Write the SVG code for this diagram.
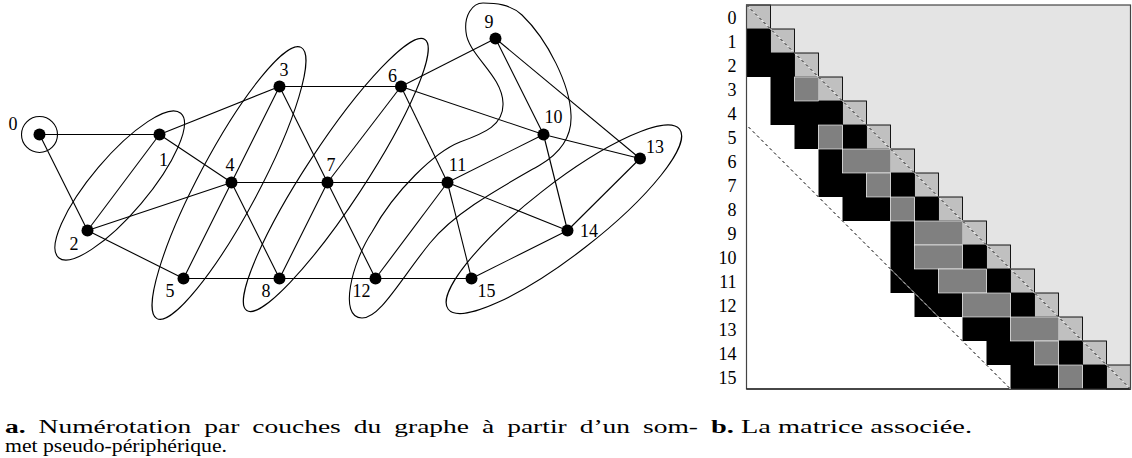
<svg xmlns="http://www.w3.org/2000/svg" width="1132" height="458" viewBox="0 0 1132 458" font-family="Liberation Serif, Times New Roman, serif">
<style>
text{font-family:"Liberation Serif","Times New Roman",Times,serif}
.t{font-size:18px;fill:#000}
.cap{font-size:18px;fill:#000}
.lbl{text-anchor:middle}
.rl{text-anchor:end}
.e{stroke:#000;stroke-width:1.1;fill:none}
.lay{stroke:#000;stroke-width:1.1;fill:none}
.dot{fill:#000}
.blk{fill:#000}
.dg{fill:#808080;stroke:#fff;stroke-width:0.6}
.diag{fill:#c0c0c0;stroke:#000;stroke-width:0.9}
</style>
<rect width="1132" height="458" fill="#fff"/>

<g id="layers">
<circle class="lay" cx="39.5" cy="134.5" r="18"/>
<ellipse class="lay" cx="119.7" cy="185.5" rx="94.6" ry="28" transform="rotate(-49.8 119.7 185.5)"/>
<ellipse class="lay" cx="229" cy="183" rx="153.6" ry="30.2" transform="rotate(-62 229 183)"/>
<ellipse class="lay" cx="335.8" cy="175" rx="162.2" ry="29.4" transform="rotate(-56.7 335.8 175)"/>
<path class="lay" d="M483,3 C472,3 464,16 466,32 C468,55 502,75 503,103 C504,125 485,133 460,142 C435,152 395,190 372,232 C352,262 338,318 362,318 C380,318 400,280 430,243 C455,212 500,188 540,165 C562,152 572,135 571,115 C570,85 548,40 522,15 C510,4 495,3 483,3 Z"/>
<ellipse class="lay" cx="563.9" cy="219.2" rx="146.6" ry="35.3" transform="rotate(-37.9 563.9 219.2)"/>
</g>

<g id="connectors">
<line class="e" x1="39.5" y1="134.5" x2="159.5" y2="134.5"/>
<line class="e" x1="39.5" y1="134.5" x2="87.5" y2="230.5"/>
<line class="e" x1="159.5" y1="134.5" x2="87.5" y2="230.5"/>
<line class="e" x1="159.5" y1="134.5" x2="279.5" y2="86.5"/>
<line class="e" x1="159.5" y1="134.5" x2="231.5" y2="182.5"/>
<line class="e" x1="87.5" y1="230.5" x2="231.5" y2="182.5"/>
<line class="e" x1="87.5" y1="230.5" x2="183.5" y2="278.5"/>
<line class="e" x1="279.5" y1="86.5" x2="231.5" y2="182.5"/>
<line class="e" x1="279.5" y1="86.5" x2="401" y2="86.5"/>
<line class="e" x1="279.5" y1="86.5" x2="327.5" y2="182.5"/>
<line class="e" x1="231.5" y1="182.5" x2="183.5" y2="278.5"/>
<line class="e" x1="231.5" y1="182.5" x2="327.5" y2="182.5"/>
<line class="e" x1="231.5" y1="182.5" x2="279.5" y2="278.5"/>
<line class="e" x1="183.5" y1="278.5" x2="279.5" y2="278.5"/>
<line class="e" x1="401" y1="86.5" x2="327.5" y2="182.5"/>
<line class="e" x1="401" y1="86.5" x2="495.5" y2="38.5"/>
<line class="e" x1="401" y1="86.5" x2="543.5" y2="134.5"/>
<line class="e" x1="401" y1="86.5" x2="447.5" y2="182.5"/>
<line class="e" x1="327.5" y1="182.5" x2="279.5" y2="278.5"/>
<line class="e" x1="327.5" y1="182.5" x2="447.5" y2="182.5"/>
<line class="e" x1="327.5" y1="182.5" x2="375.5" y2="278.5"/>
<line class="e" x1="279.5" y1="278.5" x2="375.5" y2="278.5"/>
<line class="e" x1="495.5" y1="38.5" x2="543.5" y2="134.5"/>
<line class="e" x1="495.5" y1="38.5" x2="640" y2="158.5"/>
<line class="e" x1="543.5" y1="134.5" x2="447.5" y2="182.5"/>
<line class="e" x1="543.5" y1="134.5" x2="640" y2="158.5"/>
<line class="e" x1="543.5" y1="134.5" x2="567.5" y2="230.5"/>
<line class="e" x1="447.5" y1="182.5" x2="375.5" y2="278.5"/>
<line class="e" x1="447.5" y1="182.5" x2="567.5" y2="230.5"/>
<line class="e" x1="447.5" y1="182.5" x2="471.5" y2="278.5"/>
<line class="e" x1="375.5" y1="278.5" x2="471.5" y2="278.5"/>
<line class="e" x1="640" y1="158.5" x2="567.5" y2="230.5"/>
<line class="e" x1="567.5" y1="230.5" x2="471.5" y2="278.5"/>
</g>

<g id="n0"><circle class="dot" cx="39.5" cy="134.5" r="6"/><text class="t lbl" x="13" y="130">0</text></g>
<g id="n1"><circle class="dot" cx="159.5" cy="134.5" r="6"/><text class="t lbl" x="163.5" y="166">1</text></g>
<g id="n2"><circle class="dot" cx="87.5" cy="230.5" r="6"/><text class="t lbl" x="74" y="250">2</text></g>
<g id="n3"><circle class="dot" cx="279.5" cy="86.5" r="6"/><text class="t lbl" x="284" y="75.5">3</text></g>
<g id="n4"><circle class="dot" cx="231.5" cy="182.5" r="6"/><text class="t lbl" x="230" y="171">4</text></g>
<g id="n5"><circle class="dot" cx="183.5" cy="278.5" r="6"/><text class="t lbl" x="170" y="297">5</text></g>
<g id="n6"><circle class="dot" cx="401" cy="86.5" r="6"/><text class="t lbl" x="392.5" y="82">6</text></g>
<g id="n7"><circle class="dot" cx="327.5" cy="182.5" r="6"/><text class="t lbl" x="331" y="171">7</text></g>
<g id="n8"><circle class="dot" cx="279.5" cy="278.5" r="6"/><text class="t lbl" x="266" y="297">8</text></g>
<g id="n9"><circle class="dot" cx="495.5" cy="38.5" r="6"/><text class="t lbl" x="489" y="27.5">9</text></g>
<g id="n10"><circle class="dot" cx="543.5" cy="134.5" r="6"/><text class="t lbl" x="553.5" y="122.5">10</text></g>
<g id="n11"><circle class="dot" cx="447.5" cy="182.5" r="6"/><text class="t lbl" x="457.5" y="170.5">11</text></g>
<g id="n12"><circle class="dot" cx="375.5" cy="278.5" r="6"/><text class="t lbl" x="361.5" y="297">12</text></g>
<g id="n13"><circle class="dot" cx="640" cy="158.5" r="6"/><text class="t lbl" x="655" y="152.5">13</text></g>
<g id="n14"><circle class="dot" cx="567.5" cy="230.5" r="6"/><text class="t lbl" x="589" y="236.5">14</text></g>
<g id="n15"><circle class="dot" cx="471.5" cy="278.5" r="6"/><text class="t lbl" x="486.5" y="297">15</text></g>

<g id="matrix">
<rect x="746.5" y="5" width="384" height="384" fill="#fff"/>
<polygon fill="#e4e4e4" points="770.5,5 1130.5,5 1130.5,365 1106.5,365 1106.5,341 1082.5,341 1082.5,317 1058.5,317 1058.5,293 1034.5,293 1034.5,269 1010.5,269 1010.5,245 986.5,245 986.5,221 962.5,221 962.5,197 938.5,197 938.5,173 914.5,173 914.5,149 890.5,149 890.5,125 866.5,125 866.5,101 842.5,101 842.5,77 818.5,77 818.5,53 794.5,53 794.5,29 770.5,29"/>
<g id="diagcells">
<rect class="diag" x="746.5" y="5" width="24" height="24"/>
<rect class="diag" x="770.5" y="29" width="24" height="24"/>
<rect class="diag" x="794.5" y="53" width="24" height="24"/>
<rect class="diag" x="818.5" y="77" width="24" height="24"/>
<rect class="diag" x="842.5" y="101" width="24" height="24"/>
<rect class="diag" x="866.5" y="125" width="24" height="24"/>
<rect class="diag" x="890.5" y="149" width="24" height="24"/>
<rect class="diag" x="914.5" y="173" width="24" height="24"/>
<rect class="diag" x="938.5" y="197" width="24" height="24"/>
<rect class="diag" x="962.5" y="221" width="24" height="24"/>
<rect class="diag" x="986.5" y="245" width="24" height="24"/>
<rect class="diag" x="1010.5" y="269" width="24" height="24"/>
<rect class="diag" x="1034.5" y="293" width="24" height="24"/>
<rect class="diag" x="1058.5" y="317" width="24" height="24"/>
<rect class="diag" x="1082.5" y="341" width="24" height="24"/>
<rect class="diag" x="1106.5" y="365" width="24" height="24"/>
</g>
<g id="blackcells">
<rect class="blk" x="746.5" y="29" width="24" height="24"/>
<rect class="blk" x="746.5" y="53" width="48" height="24"/>
<rect class="blk" x="770.5" y="77" width="24" height="24"/>
<rect class="blk" x="770.5" y="101" width="72" height="24"/>
<rect class="blk" x="794.5" y="125" width="24" height="24"/>
<rect class="blk" x="842.5" y="125" width="24" height="24"/>
<rect class="blk" x="818.5" y="149" width="24" height="24"/>
<rect class="blk" x="818.5" y="173" width="48" height="24"/>
<rect class="blk" x="890.5" y="173" width="24" height="24"/>
<rect class="blk" x="842.5" y="197" width="48" height="24"/>
<rect class="blk" x="914.5" y="197" width="24" height="24"/>
<rect class="blk" x="890.5" y="221" width="24" height="24"/>
<rect class="blk" x="890.5" y="245" width="24" height="24"/>
<rect class="blk" x="962.5" y="245" width="24" height="24"/>
<rect class="blk" x="890.5" y="269" width="48" height="24"/>
<rect class="blk" x="986.5" y="269" width="24" height="24"/>
<rect class="blk" x="914.5" y="293" width="48" height="24"/>
<rect class="blk" x="1010.5" y="293" width="24" height="24"/>
<rect class="blk" x="962.5" y="317" width="48" height="24"/>
<rect class="blk" x="986.5" y="341" width="48" height="24"/>
<rect class="blk" x="1058.5" y="341" width="24" height="24"/>
<rect class="blk" x="1010.5" y="365" width="48" height="24"/>
<rect class="blk" x="1082.5" y="365" width="24" height="24"/>
</g>
<g id="graycells">
<rect class="dg" x="794.5" y="77" width="24" height="24"/>
<rect class="dg" x="818.5" y="125" width="24" height="24"/>
<rect class="dg" x="842.5" y="149" width="48" height="24"/>
<rect class="dg" x="866.5" y="173" width="24" height="24"/>
<rect class="dg" x="890.5" y="197" width="24" height="24"/>
<rect class="dg" x="914.5" y="221" width="48" height="24"/>
<rect class="dg" x="914.5" y="245" width="48" height="24"/>
<rect class="dg" x="938.5" y="269" width="48" height="24"/>
<rect class="dg" x="962.5" y="293" width="48" height="24"/>
<rect class="dg" x="1010.5" y="317" width="48" height="24"/>
<rect class="dg" x="1034.5" y="341" width="24" height="24"/>
<rect class="dg" x="1058.5" y="365" width="24" height="24"/>
</g>
<rect x="746.5" y="5" width="384" height="384" fill="none" stroke="#444" stroke-width="1.2"/>
<line x1="746.5" y1="389" x2="1130.5" y2="389" stroke="#000" stroke-width="1.2"/>
<g id="dashes">
<line x1="746.5" y1="5" x2="1130.5" y2="389" stroke="#fff" stroke-width="1"/>
<line x1="746.5" y1="5" x2="1130.5" y2="389" stroke="#000" stroke-width="1" stroke-dasharray="3 3"/>
<line x1="748.5" y1="127" x2="1010.5" y2="389" stroke="#fff" stroke-width="1"/>
<line x1="748.5" y1="127" x2="1010.5" y2="389" stroke="#000" stroke-width="1" stroke-dasharray="3 3"/>
</g>
<g id="rowlabels">
<text class="t rl" x="736.5" y="23.5">0</text>
<text class="t rl" x="736.5" y="47.5">1</text>
<text class="t rl" x="736.5" y="71.5">2</text>
<text class="t rl" x="736.5" y="95.5">3</text>
<text class="t rl" x="736.5" y="119.5">4</text>
<text class="t rl" x="736.5" y="143.5">5</text>
<text class="t rl" x="736.5" y="167.5">6</text>
<text class="t rl" x="736.5" y="191.5">7</text>
<text class="t rl" x="736.5" y="215.5">8</text>
<text class="t rl" x="736.5" y="239.5">9</text>
<text class="t rl" x="736.5" y="263.5">10</text>
<text class="t rl" x="736.5" y="287.5">11</text>
<text class="t rl" x="736.5" y="311.5">12</text>
<text class="t rl" x="736.5" y="335.5">13</text>
<text class="t rl" x="736.5" y="359.5">14</text>
<text class="t rl" x="736.5" y="383.5">15</text>
</g>
</g>

<g id="captions">
<text class="cap" x="5" y="433" word-spacing="4" textLength="693" lengthAdjust="spacingAndGlyphs"><tspan font-weight="bold">a.</tspan> Numérotation par couches du graphe à partir d’un som-</text>
<text class="cap" x="5" y="452" textLength="222" lengthAdjust="spacingAndGlyphs">met pseudo-périphérique.</text>
<text class="cap" x="711" y="433" textLength="261" lengthAdjust="spacingAndGlyphs"><tspan font-weight="bold">b.</tspan> La matrice associée.</text>
</g>
</svg>
